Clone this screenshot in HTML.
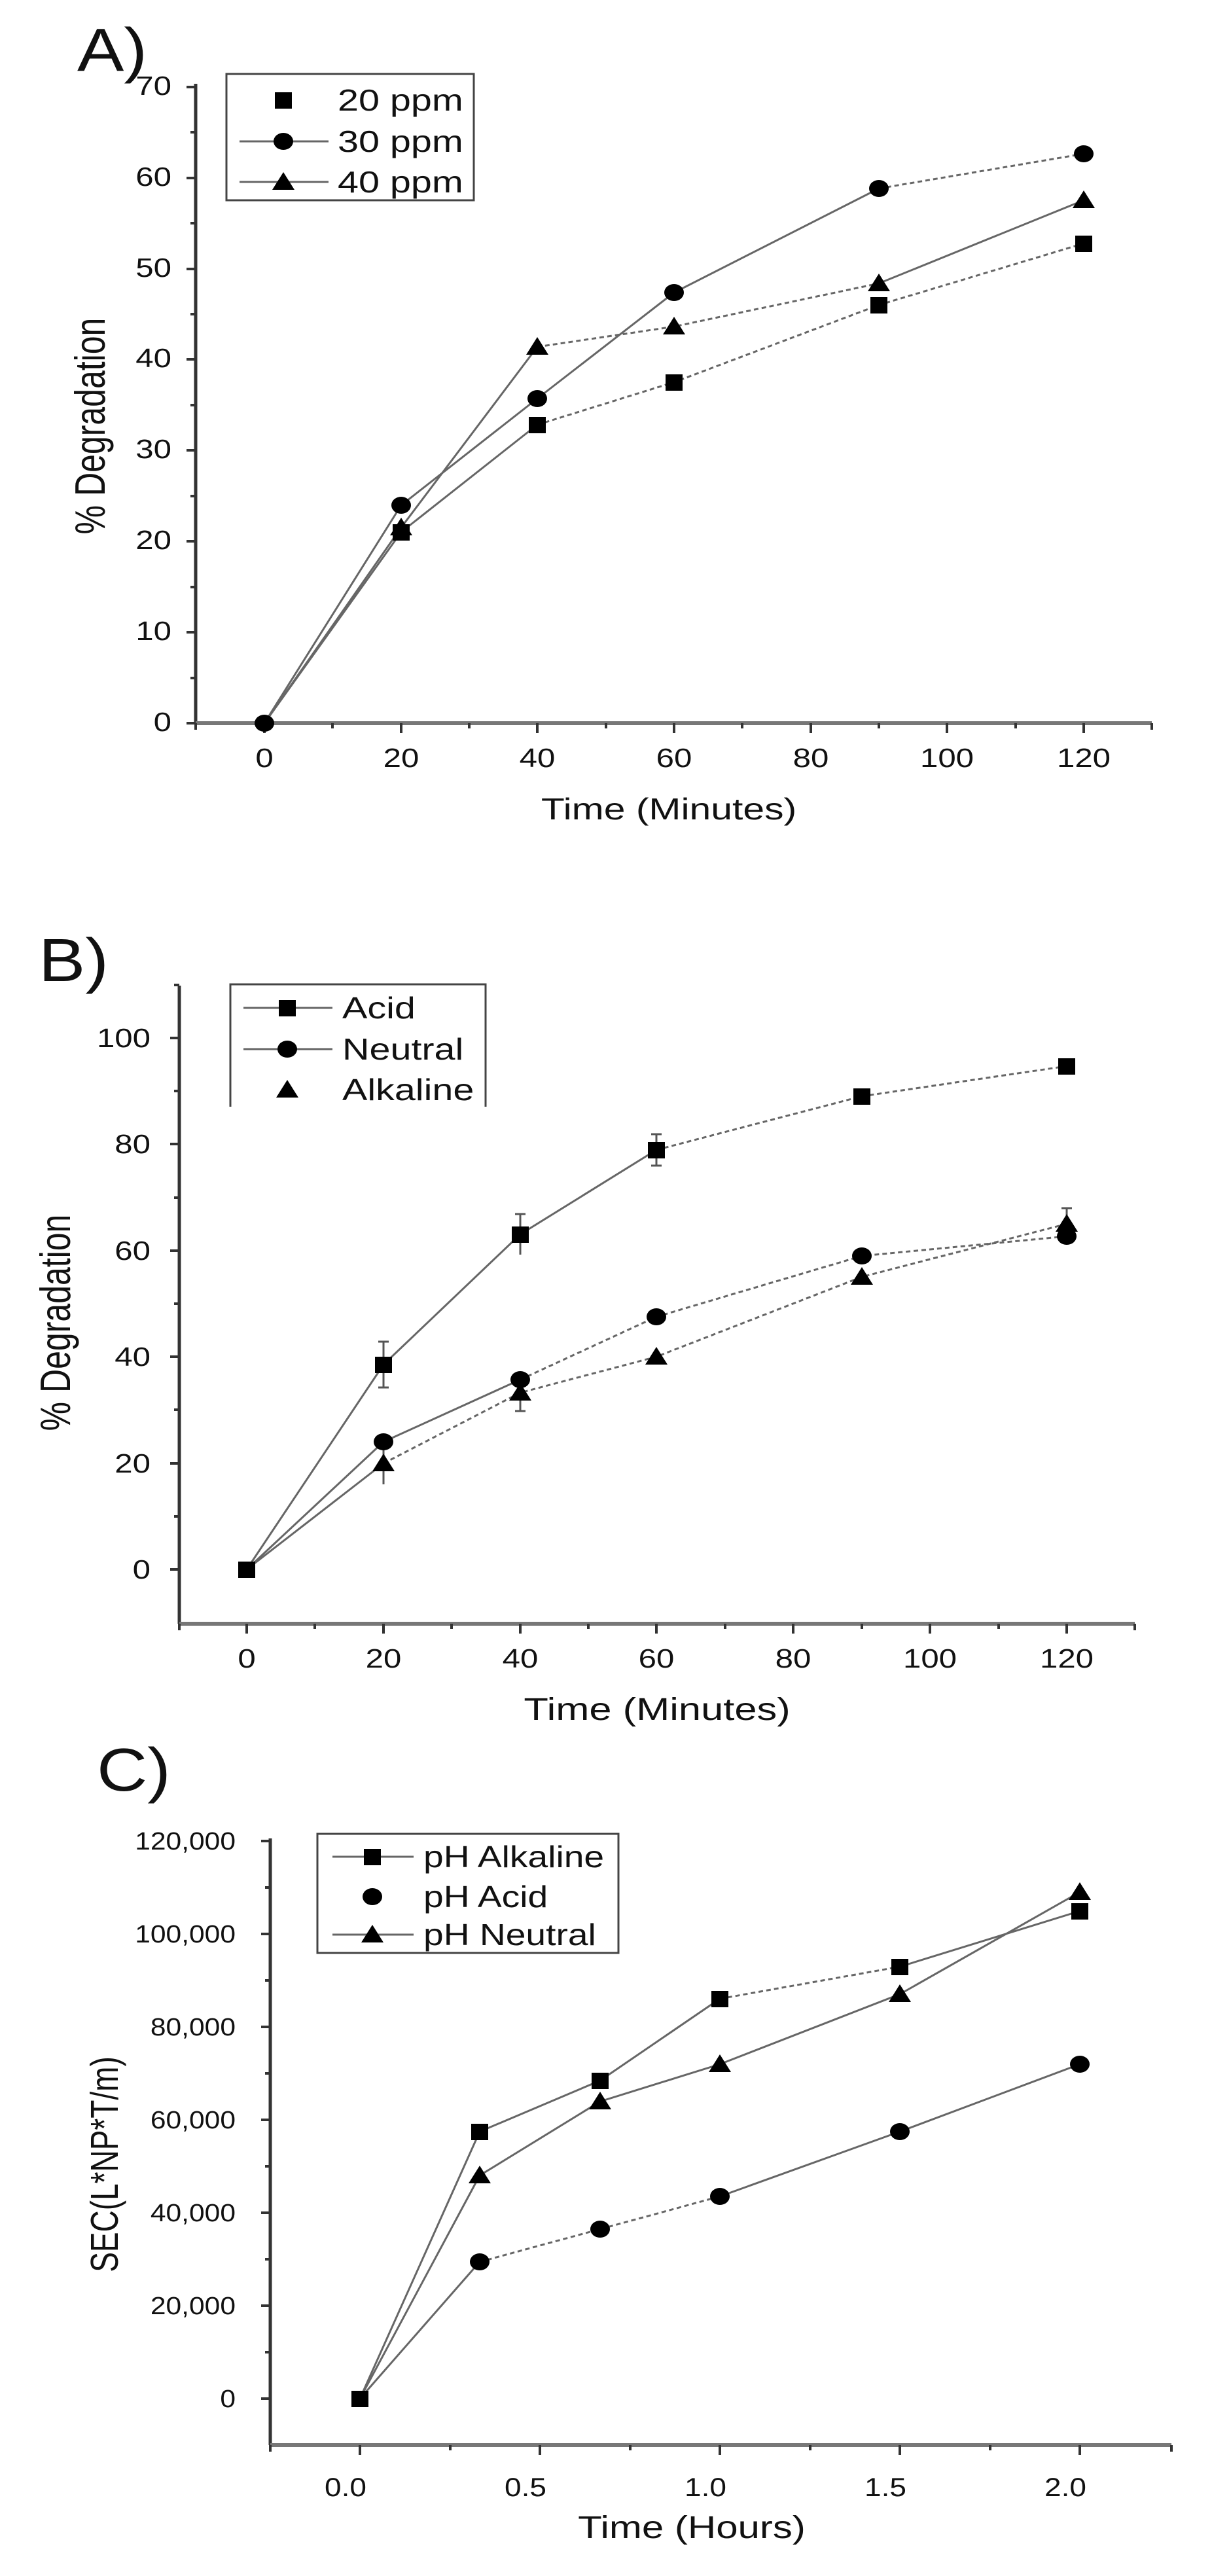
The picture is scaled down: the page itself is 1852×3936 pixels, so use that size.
<!DOCTYPE html>
<html><head><meta charset="utf-8"><style>
html,body{margin:0;padding:0;background:#fff}
svg{display:block}
text{font-family:"Liberation Sans",Arial,sans-serif;fill:#111}
.ax{stroke:#333;stroke-width:5;fill:none}
.xa{stroke:#777;stroke-width:6;fill:none}
.tk{stroke:#333;stroke-width:4}
.s{stroke:#666;stroke-width:3;fill:none}
.d{stroke:#666;stroke-width:3;fill:none;stroke-dasharray:7 5}
</style></head><body>
<svg width="1852" height="3936" viewBox="0 0 1852 3936" xmlns="http://www.w3.org/2000/svg">
<defs>
<rect id="sq" x="-13" y="-12" width="26" height="25" fill="#000"/>
<ellipse id="ci" rx="15" ry="13" fill="#000"/>
<polygon id="tr" points="0,-15 17,12 -17,12" fill="#000"/>
</defs>

<!-- ================= PANEL A ================= -->
<text transform="translate(118,108) scale(1.15,1)" font-size="93">A)</text>
<path class="ax" d="M299,128 V1105"/>
<path class="xa" d="M299,1105 H1760"/>
<g class="tk">
<path d="M285,1105H299M285,966H299M285,827H299M285,688H299M285,549H299M285,411H299M285,272H299M285,133H299"/>
<path d="M291,1036H299M291,897H299M291,758H299M291,619H299M291,480H299M291,341H299M291,202H299"/>
<path d="M404,1105V1120M613,1105V1120M821,1105V1120M1030,1105V1120M1239,1105V1120M1447,1105V1120M1656,1105V1120"/>
<path d="M299,1105V1115M508,1105V1113M717,1105V1113M926,1105V1113M1134,1105V1113M1343,1105V1113M1552,1105V1113M1760,1105V1115"/>
</g>
<g font-size="41" text-anchor="end">
<text transform="translate(262,1117) scale(1.2,1)">0</text>
<text transform="translate(262,978) scale(1.2,1)">10</text>
<text transform="translate(262,839) scale(1.2,1)">20</text>
<text transform="translate(262,700) scale(1.2,1)">30</text>
<text transform="translate(262,561) scale(1.2,1)">40</text>
<text transform="translate(262,423) scale(1.2,1)">50</text>
<text transform="translate(262,284) scale(1.2,1)">60</text>
<text transform="translate(262,145) scale(1.2,1)">70</text>
</g>
<g font-size="41" text-anchor="middle">
<text transform="translate(404,1172) scale(1.2,1)">0</text>
<text transform="translate(613,1172) scale(1.2,1)">20</text>
<text transform="translate(821,1172) scale(1.2,1)">40</text>
<text transform="translate(1030,1172) scale(1.2,1)">60</text>
<text transform="translate(1239,1172) scale(1.2,1)">80</text>
<text transform="translate(1447,1172) scale(1.2,1)">100</text>
<text transform="translate(1656,1172) scale(1.2,1)">120</text>
</g>
<text transform="translate(1022,1252) scale(1.28,1)" font-size="46" text-anchor="middle">Time (Minutes)</text>
<text transform="translate(160,651) rotate(-90) scale(1,1.3)" font-size="50" text-anchor="middle">% Degradation</text>
<!-- series A -->
<path class="s" d="M404,1105 L613,813 L821,649"/><path class="d" d="M821,649 L1030,584 L1343,466 L1656,372"/>
<path class="s" d="M404,1105 L613,772 L821,609 L1030,447 L1343,288"/><path class="d" d="M1343,288 L1656,235"/>
<path class="s" d="M404,1105 L613,806 L821,530"/><path class="d" d="M821,530 L1030,499 L1343,433"/><path class="s" d="M1343,433 L1656,306"/>
<use href="#sq" x="613" y="813"/><use href="#sq" x="821" y="649"/><use href="#sq" x="1030" y="584"/><use href="#sq" x="1343" y="466"/><use href="#sq" x="1656" y="372"/>
<use href="#ci" x="404" y="1105"/><use href="#ci" x="613" y="772"/><use href="#ci" x="821" y="609"/><use href="#ci" x="1030" y="447"/><use href="#ci" x="1343" y="288"/><use href="#ci" x="1656" y="235"/>
<use href="#tr" x="613" y="806"/><use href="#tr" x="821" y="530"/><use href="#tr" x="1030" y="499"/><use href="#tr" x="1343" y="433"/><use href="#tr" x="1656" y="306"/>
<!-- legend A -->
<rect x="346" y="113" width="378" height="193" fill="#fff" stroke="#444" stroke-width="3"/>
<use href="#sq" x="433" y="153"/>
<path class="s" d="M366,216H502"/><use href="#ci" x="433" y="216"/>
<path class="s" d="M366,278H502"/><use href="#tr" x="433" y="278"/>
<g font-size="46">
<text transform="translate(516,169) scale(1.25,1)">20 ppm</text>
<text transform="translate(516,232) scale(1.25,1)">30 ppm</text>
<text transform="translate(516,294) scale(1.25,1)">40 ppm</text>
</g>

<!-- ================= PANEL B ================= -->
<text transform="translate(59,1499) scale(1.15,1)" font-size="93">B)</text>
<path class="ax" d="M274,1506 V2481"/>
<path class="xa" d="M274,2481 H1734"/>
<g class="tk">
<path d="M260,2398H274M260,2236H274M260,2073H274M260,1911H274M260,1748H274M260,1586H274"/>
<path d="M266,2317H274M266,2154H274M266,1992H274M266,1830H274M266,1667H274M266,1505H274"/>
<path d="M377,2481V2496M586,2481V2496M795,2481V2496M1003,2481V2496M1212,2481V2496M1421,2481V2496M1630,2481V2496"/>
<path d="M274,2481V2491M481,2481V2489M690,2481V2489M899,2481V2489M1108,2481V2489M1317,2481V2489M1526,2481V2489M1734,2481V2491"/>
</g>
<g font-size="41" text-anchor="end">
<text transform="translate(230,2412) scale(1.2,1)">0</text>
<text transform="translate(230,2250) scale(1.2,1)">20</text>
<text transform="translate(230,2087) scale(1.2,1)">40</text>
<text transform="translate(230,1925) scale(1.2,1)">60</text>
<text transform="translate(230,1762) scale(1.2,1)">80</text>
<text transform="translate(230,1600) scale(1.2,1)">100</text>
</g>
<g font-size="41" text-anchor="middle">
<text transform="translate(377,2548) scale(1.2,1)">0</text>
<text transform="translate(586,2548) scale(1.2,1)">20</text>
<text transform="translate(795,2548) scale(1.2,1)">40</text>
<text transform="translate(1003,2548) scale(1.2,1)">60</text>
<text transform="translate(1212,2548) scale(1.2,1)">80</text>
<text transform="translate(1421,2548) scale(1.2,1)">100</text>
<text transform="translate(1630,2548) scale(1.2,1)">120</text>
</g>
<text transform="translate(1004,2628) scale(1.28,1)" font-size="48" text-anchor="middle">Time (Minutes)</text>
<text transform="translate(107,2021) rotate(-90) scale(1,1.3)" font-size="50" text-anchor="middle">% Degradation</text>
<g stroke="#555" stroke-width="3">
<path d="M586,2050V2120M578,2050H594M578,2120H594"/>
<path d="M795,1855V1917M787,1855H803"/>
<path d="M1003,1733V1781M995,1733H1011M995,1781H1011"/>
<path d="M586,2204V2268M795,2100V2156M787,2156H803M1630,1846V1894M1622,1846H1638"/>
</g>
<path class="s" d="M377,2398 L586,2085 L795,1886 L1003,1757"/><path class="d" d="M1003,1757 L1317,1675 L1630,1629"/>
<path class="s" d="M377,2398 L586,2203 L795,2108"/><path class="d" d="M795,2108 L1003,2012 L1317,1919 L1630,1889"/>
<path class="s" d="M377,2398 L586,2236"/><path class="d" d="M586,2236 L795,2128 L1003,2073 L1317,1951 L1630,1870"/>
<use href="#sq" x="377" y="2398"/><use href="#sq" x="586" y="2085"/><use href="#sq" x="795" y="1886"/><use href="#sq" x="1003" y="1757"/><use href="#sq" x="1317" y="1675"/><use href="#sq" x="1630" y="1629"/>
<use href="#ci" x="586" y="2203"/><use href="#ci" x="795" y="2108"/><use href="#ci" x="1003" y="2012"/><use href="#ci" x="1317" y="1919"/><use href="#ci" x="1630" y="1889"/>
<use href="#tr" x="586" y="2236"/><use href="#tr" x="795" y="2128"/><use href="#tr" x="1003" y="2073"/><use href="#tr" x="1317" y="1951"/><use href="#tr" x="1630" y="1870"/>
<path d="M352,1691 V1504 H742 V1691" fill="#fff" stroke="#444" stroke-width="3"/>
<path class="s" d="M372,1540H508"/><use href="#sq" x="439" y="1540"/>
<path class="s" d="M372,1603H508"/><use href="#ci" x="439" y="1603"/>
<use href="#tr" x="439" y="1665"/>
<g font-size="46">
<text transform="translate(523,1556) scale(1.25,1)">Acid</text>
<text transform="translate(523,1619) scale(1.25,1)">Neutral</text>
<text transform="translate(523,1681) scale(1.25,1)">Alkaline</text>
</g>

<!-- ================= PANEL C ================= -->
<text transform="translate(148,2736) scale(1.15,1)" font-size="93">C)</text>
<path class="ax" d="M413,2809 V3736"/>
<path class="xa" d="M413,3736 H1790"/>
<g class="tk">
<path d="M399,3665H413M399,3523H413M399,3381H413M399,3239H413M399,3097H413M399,2955H413M399,2813H413"/>
<path d="M405,3594H413M405,3452H413M405,3310H413M405,3168H413M405,3026H413M405,2884H413"/>
<path d="M550,3736V3751M825,3736V3751M1100,3736V3751M1375,3736V3751M1650,3736V3751"/>
<path d="M413,3736V3746M688,3736V3744M963,3736V3744M1238,3736V3744M1513,3736V3744M1790,3736V3746"/>
</g>
<g font-size="38" text-anchor="end">
<text transform="translate(360,3678) scale(1.12,1)">0</text>
<text transform="translate(360,3536) scale(1.12,1)">20,000</text>
<text transform="translate(360,3394) scale(1.12,1)">40,000</text>
<text transform="translate(360,3252) scale(1.12,1)">60,000</text>
<text transform="translate(360,3110) scale(1.12,1)">80,000</text>
<text transform="translate(360,2968) scale(1.12,1)">100,000</text>
<text transform="translate(360,2826) scale(1.12,1)">120,000</text>
</g>
<g font-size="40" text-anchor="middle">
<text transform="translate(528,3814) scale(1.15,1)">0.0</text>
<text transform="translate(803,3814) scale(1.15,1)">0.5</text>
<text transform="translate(1078,3814) scale(1.15,1)">1.0</text>
<text transform="translate(1353,3814) scale(1.15,1)">1.5</text>
<text transform="translate(1628,3814) scale(1.15,1)">2.0</text>
</g>
<text transform="translate(1057,3878) scale(1.25,1)" font-size="48" text-anchor="middle">Time (Hours)</text>
<text transform="translate(180,3307) rotate(-90) scale(1,1.3)" font-size="46" text-anchor="middle">SEC(L*NP*T/m)</text>
<path class="s" d="M550,3665 L733,3257 L917,3179 L1100,3054"/><path class="d" d="M1100,3054 L1375,3005"/><path class="s" d="M1375,3005 L1650,2920"/>
<path class="s" d="M550,3665 L733,3456"/><path class="d" d="M733,3456 L917,3406 L1100,3356"/><path class="s" d="M1100,3356 L1375,3257 L1650,3154"/>
<path class="s" d="M550,3665 L733,3324 L917,3211 L1100,3154 L1375,3047 L1650,2891"/>
<use href="#sq" x="550" y="3665"/><use href="#sq" x="733" y="3257"/><use href="#sq" x="917" y="3179"/><use href="#sq" x="1100" y="3054"/><use href="#sq" x="1375" y="3005"/><use href="#sq" x="1650" y="2920"/>
<use href="#ci" x="733" y="3456"/><use href="#ci" x="917" y="3406"/><use href="#ci" x="1100" y="3356"/><use href="#ci" x="1375" y="3257"/><use href="#ci" x="1650" y="3154"/>
<use href="#tr" x="733" y="3324"/><use href="#tr" x="917" y="3211"/><use href="#tr" x="1100" y="3154"/><use href="#tr" x="1375" y="3047"/><use href="#tr" x="1650" y="2891"/>
<rect x="485" y="2802" width="460" height="182" fill="#fff" stroke="#444" stroke-width="3"/>
<path class="s" d="M508,2837H632"/><use href="#sq" x="569" y="2837"/>
<use href="#ci" x="569" y="2898"/>
<path class="s" d="M508,2956H632"/><use href="#tr" x="569" y="2956"/>
<g font-size="46">
<text transform="translate(647,2853) scale(1.2,1)">pH Alkaline</text>
<text transform="translate(647,2914) scale(1.2,1)">pH Acid</text>
<text transform="translate(647,2972) scale(1.2,1)">pH Neutral</text>
</g>
</svg>
</body></html>
